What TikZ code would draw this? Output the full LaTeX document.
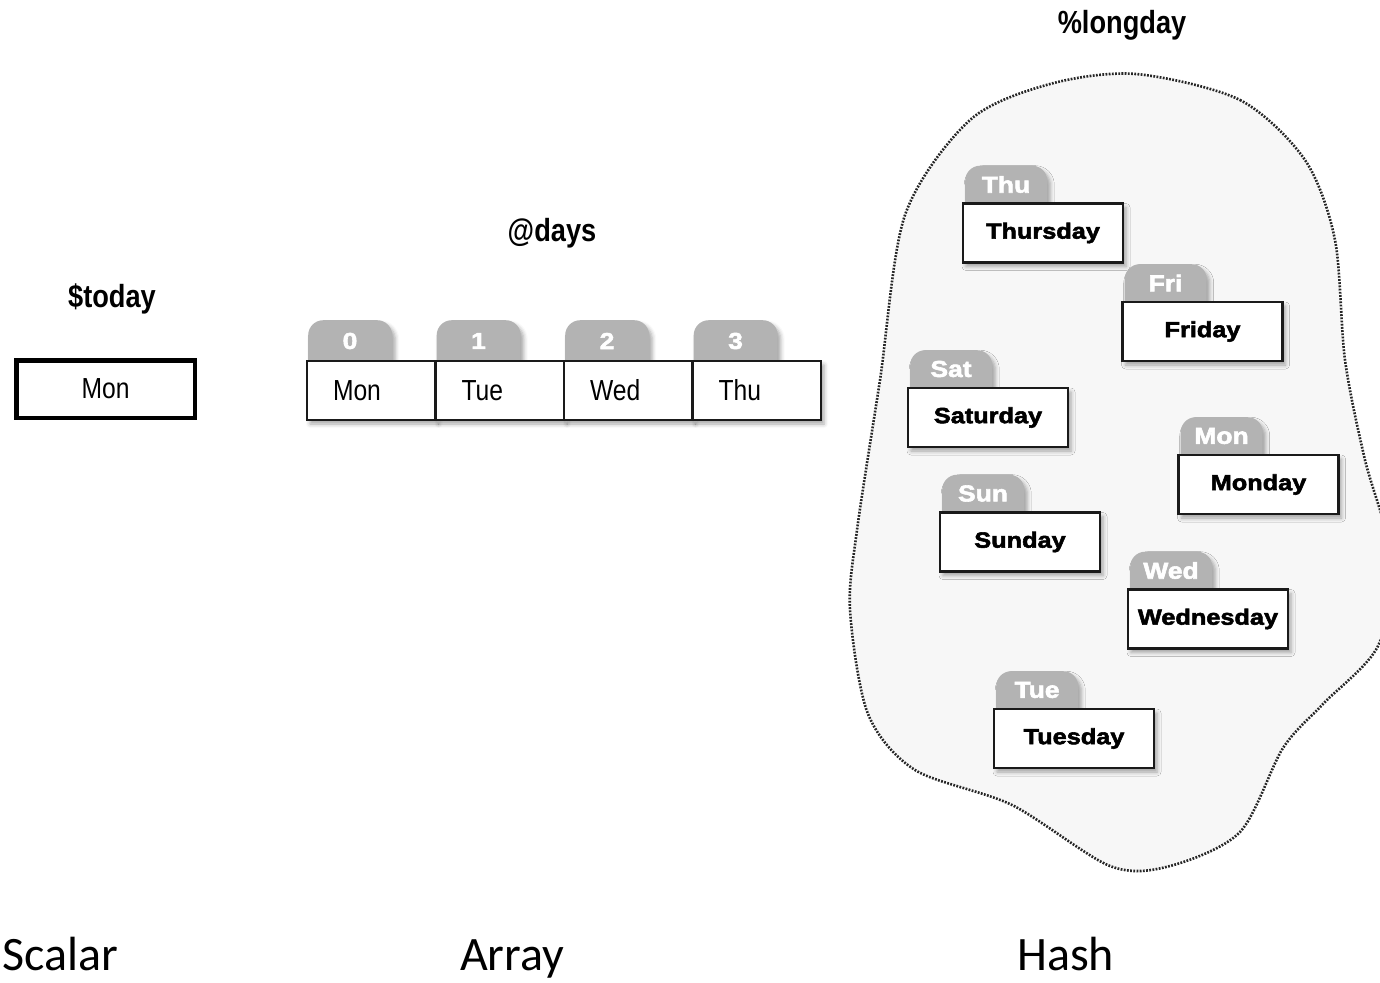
\documentclass[tikz,border=0pt]{standalone}
\usepackage{fontspec}
\setmainfont{Liberation Sans}
\newfontfamily\condfont[FakeStretch=0.85]{Liberation Sans}
\newfontfamily\heavyfont[FakeStretch=1.15,FakeBold=2.5]{Liberation Sans Bold}
\newfontfamily\calibrifont{Carlito}
\usetikzlibrary{positioning,shadows.blur}

\definecolor{tabgray}{HTML}{B3B3B3}
\definecolor{blobfill}{HTML}{F7F7F7}
\definecolor{dotgray}{HTML}{262626}
\definecolor{edgeblack}{HTML}{1A1A1A}

\tikzset{
  softshadow/.style={blur shadow={shadow xshift=3pt, shadow yshift=-4pt, shadow blur radius=4pt, shadow opacity=35}},
  varname/.style={font=\condfont\bfseries\fontsize{32}{36}\selectfont, inner sep=0pt},
  kind/.style={font=\calibrifont\fontsize{48}{52}\selectfont, inner sep=0pt},
  scalarbox/.style={draw=black, line width=4.5pt, fill=white, minimum width=178.5pt, minimum height=57.5pt,
    font=\condfont\fontsize{29}{32}\selectfont},
  cell/.style={draw=edgeblack, line width=2.5pt, fill=white, minimum width=128.5pt, minimum height=59pt,
    outer sep=0pt, inner xsep=26pt, text width=76.5pt, align=left,
    font=\condfont\fontsize{29}{32}\selectfont, softshadow},
  arraytab/.style={fill=tabgray, rounded corners=15pt, minimum width=84pt, minimum height=56pt, inner sep=0pt, softshadow},
  hashtab/.style={fill=tabgray, rounded corners=15pt, minimum width=82pt, minimum height=54pt, inner sep=0pt, softshadow},
  tabtext/.style={text=white, font=\heavyfont\fontsize{23}{26}\selectfont, inner sep=0pt},
  hashbox/.style={draw=edgeblack, line width=2.5pt, fill=white, minimum width=160pt, minimum height=59pt,
    font=\heavyfont\fontsize{22}{26}\selectfont, softshadow},
  blob/.style={fill=blobfill, draw=dotgray, line width=2.6pt, dash pattern=on 1.8pt off 1.4pt}
}

\begin{document}
\begin{tikzpicture}[x=1pt,y=-1pt]
\useasboundingbox (0,0) rectangle (1380,982);

% scalar
\node[varname] (todayname) at (112,299) {\$today};
\node[scalarbox] (today) at (105.5,389) {Mon};

% array
\node[varname] (daysname) at (552,233) {@days};
\foreach \i in {0,...,3}{
  \node[arraytab, anchor=north west] (tab\i) at (308+128.5*\i,320) {};
  \node[tabtext] (index\i) at (350+128.5*\i,341) {\i};
}
\node[cell, anchor=north west] (cell0) at (307,361) {Mon};
\node[cell, right=0pt of cell0] (cell1) {Tue};
\node[cell, right=0pt of cell1] (cell2) {Wed};
\node[cell, right=0pt of cell2] (cell3) {Thu};

% hash
\node[varname] (longdayname) at (1122,25) {\%longday};
\filldraw[blob] plot[smooth cycle] coordinates {
  (1136,74) (1240,100) (1305,160) (1335,240) (1345,360) (1365,460) (1392,560)
  (1378,646) (1323,704) (1283,748) (1240,832) (1170,866) (1110,866) (1012,805)
  (915,770) (868,714) (850,610) (857,530) (880,380) (905,215) (970,120) (1050,84)};
\foreach \key/\val/\cx/\cy in {Thu/Thursday/1043/233, Fri/Friday/1202.5/331.5,
    Sat/Saturday/988/417.5, Mon/Monday/1258.5/484.5, Sun/Sunday/1020/542,
    Wed/Wednesday/1208/619, Tue/Tuesday/1074/738.5}{
  \node[hashtab, anchor=north west] (tab\key) at (\cx-78,\cy-67.5) {};
  \node[tabtext] (key\key) at (\cx-37,\cy-48.5) {\key};
  \node[hashbox] (box\key) at (\cx,\cy) {\val};
}

% kinds
\node[kind, anchor=base west] (scalarkind) at (2,970) {Scalar};
\node[kind, anchor=base west] (arraykind) at (460,970) {Array};
\node[kind, anchor=base west] (hashkind) at (1017,970) {Hash};
\end{tikzpicture}
\end{document}
